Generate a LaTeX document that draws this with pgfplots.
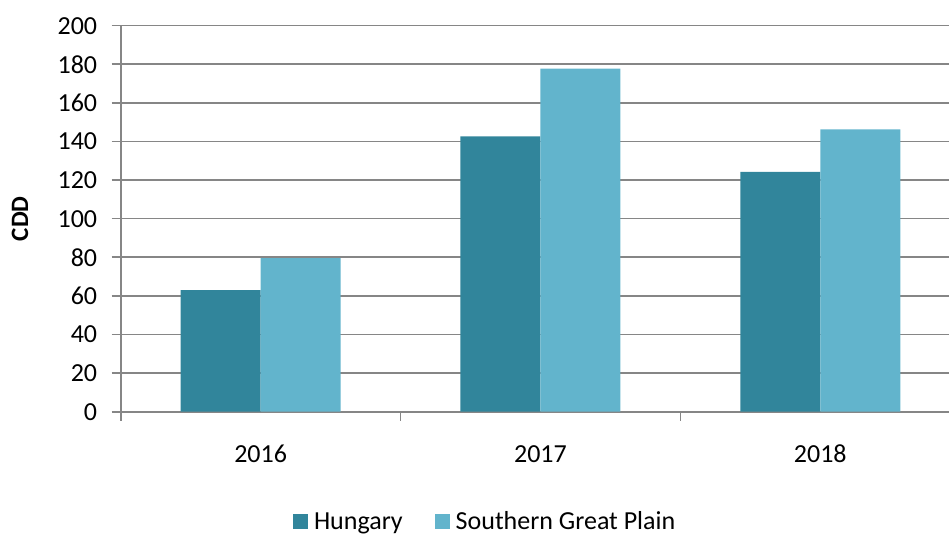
\documentclass[border=0pt]{standalone}
\usepackage{fontspec}
\setmainfont{Carlito}
\usepackage{pgfplots}
\pgfplotsset{compat=1.18}
\definecolor{hun}{RGB}{49,133,155}
\definecolor{sgp}{RGB}{98,180,204}
\definecolor{gridc}{RGB}{134,134,134}
\pgfplotsset{sqleg/.style={legend image code/.code={\fill[##1, draw=none] (0pt,-7.5pt) rectangle (15pt,7.5pt);}}}
\begin{document}
\begin{tikzpicture}
\begin{axis}[
  at={(120.7pt,123.3pt)}, anchor=south west,
  scale only axis, width=828.3pt, height=386pt,
  xmin=-0.5, xmax=2.46, ymin=0, ymax=200,
  axis x line=bottom, axis y line=left,
  axis line style={-, gridc, line width=1.6pt},
  ytick distance=20,
  ymajorgrids, grid style={gridc, line width=1.6pt},
  xtick={-0.5,0.5,1.5}, xticklabels={},
  extra x ticks={0,1,2}, extra x tick labels={2016,2017,2018},
  extra x tick style={major tick length=0pt, grid=none},
  tick style={gridc, line width=1.6pt},
  major tick length=9pt,
  tick align=outside,
  /pgf/number format/assume math mode=true,
  tick label style={font=\fontsize{26}{30}\selectfont, black},
  yticklabel style={xshift=-11pt},
  xticklabel style={yshift=-30pt},
  ylabel={\textbf{CDD}},
  ylabel style={font=\fontsize{25}{30}\selectfont, at={(axis description cs:-0.1216,0.5)}, anchor=center},
  legend style={at={(0.44,-0.285)}, anchor=center, draw=none, font=\fontsize{26}{30}\selectfont,
    legend columns=2, /tikz/every even column/.append style={column sep=30pt},
    /tikz/every odd column/.append style={column sep=4pt}},
  ybar, bar width=80pt,
]
\addplot[fill=hun, draw=none, bar shift=-40pt, sqleg] coordinates {(0,63) (1,142.7) (2,124.2)};
\addplot[fill=sgp, draw=none, bar shift=40pt, sqleg] coordinates {(0,79.6) (1,177.7) (2,146.3)};
\legend{Hungary, Southern Great Plain}
\end{axis}
\pgfresetboundingbox
\path (0,0) rectangle (949pt,535pt);
\end{tikzpicture}
\end{document}
